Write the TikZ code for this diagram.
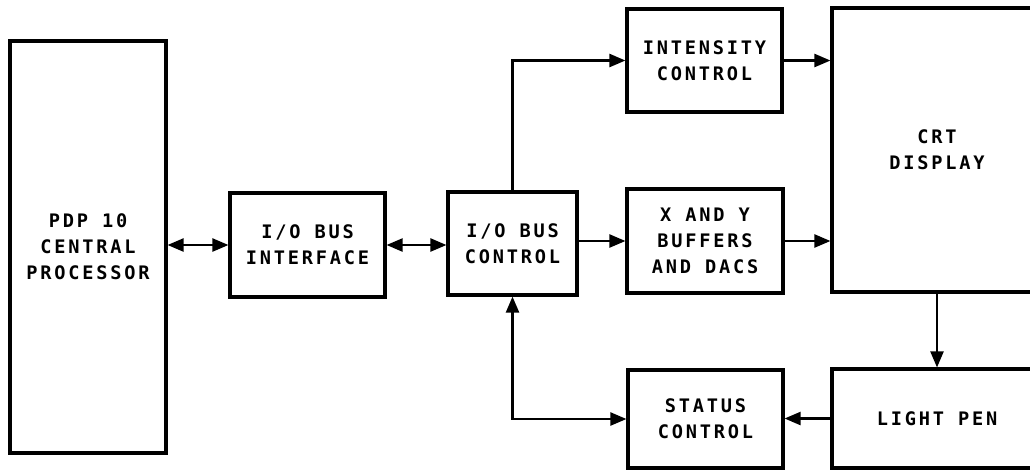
\documentclass[tikz,border=0pt]{standalone}
\usepackage{fontspec}
\usetikzlibrary{arrows.meta}
\newfontfamily\leroy{DejaVu Sans Mono}[LetterSpace=15]
\newcommand{\blocktext}{\leroy\bfseries\fontsize{10.6pt}{14.7pt}\selectfont}
\tikzset{
  blk/.style={draw, line width=1.8pt, align=center, inner sep=0pt, font=\blocktext},
  wire/.style={line width=1.3pt}
}
\begin{document}
\begin{tikzpicture}[x=0.02cm, y=-0.02cm, >={Triangle[length=3.2mm, width=2.6mm]}]
    \clip (0, 0) rectangle (1030, 471);
    \fill[white] (0, 0) rectangle (1030, 471);

    \node[blk, minimum width=3.12cm, minimum height=8.24cm] (pdp) at (88, 247) {PDP 10\\CENTRAL\\PROCESSOR};
    \node[blk, minimum width=3.1cm, minimum height=2.08cm] (iobi) at (307.5, 245) {I/O BUS\\INTERFACE};
    \node[blk, minimum width=2.58cm, minimum height=2.06cm] (iobc) at (512.5, 243.5) {I/O BUS\\CONTROL};
    \node[blk, minimum width=3.1cm, minimum height=2.06cm] (inten) at (704.5, 60.5) {INTENSITY\\CONTROL};
    \node[blk, minimum width=3.12cm, minimum height=2.08cm] (xy) at (705, 241) {X AND Y\\BUFFERS\\AND DACS};
    \node[blk, minimum width=3.1cm, minimum height=1.96cm] (stat) at (705.5, 419) {STATUS\\CONTROL};
    \node[blk, minimum width=4.2cm, minimum height=5.68cm] (crt) at (937, 150) {CRT\\DISPLAY};
    \node[blk, minimum width=4.2cm, minimum height=1.98cm] (pen) at (937, 418.5) {LIGHT PEN};

    \draw[wire, <->] (pdp.east |- iobi.west) to (iobi.west);
    \draw[wire, <->] (iobi.east) to (iobi.east -| iobc.west);
    \draw[wire, ->] (iobc.east |- xy.west) to (xy.west);
    \draw[wire, ->] (iobc.north) |- (inten.west);
    \draw[wire, <->] (iobc.south) |- (stat.west);
    \draw[wire, ->] (inten.east) to (inten.east -| crt.west);
    \draw[wire, ->] (xy.east) to (xy.east -| crt.west);
    \draw[wire, ->] (crt.south) to (pen.north);
    \draw[wire, ->] (pen.west) to (pen.west -| stat.east);
  \end{tikzpicture}
\end{document}
